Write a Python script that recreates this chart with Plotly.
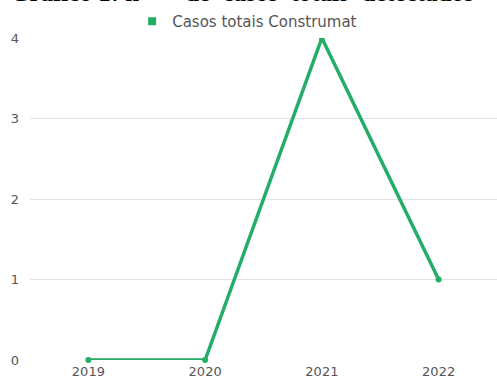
import plotly.graph_objects as go

years = ["2019", "2020", "2021", "2022"]
casos = [0, 0, 4, 1]
y_ticks = [0, 1, 2, 3, 4]
series_name = "Casos totais Construmat"
title_text = "Gráfico 1: nº&nbsp;&nbsp;&nbsp;&nbsp;&nbsp;&nbsp;de&nbsp;&nbsp;casos&nbsp;&nbsp;totais&nbsp;&nbsp;detectados"

green = "#24ad66"
tick_font = dict(family="DejaVu Sans, Liberation Sans, Arial", size=13, color="#555")

fig = go.Figure()
fig.add_trace(go.Scatter(
    x=years, y=casos, mode="lines+markers",
    name=series_name, showlegend=False,
    line=dict(color=green, width=3.5),
    marker=dict(color=green, size=6, symbol="circle"),
    cliponaxis=False,
))
# legend entry: square swatch only
fig.add_trace(go.Scatter(
    x=[None], y=[None], mode="markers", name=series_name,
    marker=dict(color=green, size=8, symbol="square"),
))
fig.update_layout(
    width=497, height=378,
    margin=dict(l=30, r=0, t=38, b=18),
    paper_bgcolor="white", plot_bgcolor="white",
    showlegend=True,
    legend=dict(orientation="h", x=0.465, xanchor="center", y=1.0, yanchor="bottom",
                font=dict(family="DejaVu Sans, Liberation Sans, Arial", size=15, color="#555"),
                itemwidth=30, tracegroupgap=0),
    xaxis=dict(type="category", range=[-0.5, 3.5], showgrid=False, zeroline=False,
               showline=False, ticks="", ticklabelstandoff=2, tickfont=tick_font,
               automargin=False),
    yaxis=dict(range=[0, 4], tickvals=y_ticks, showgrid=True, gridcolor="#e3e3e3",
               zeroline=False, showline=False, ticks="", ticklabelstandoff=10,
               tickfont=tick_font, automargin=False),
    annotations=[dict(text="<b>" + title_text + "</b>",
                      xref="paper", yref="paper", x=-22/467, y=1 + 38/322,
                      xanchor="left", yanchor="bottom", yshift=-8, showarrow=False,
                      font=dict(family="Liberation Serif, Times New Roman", size=25, color="black"))],
)
fig.write_html("out.html")
